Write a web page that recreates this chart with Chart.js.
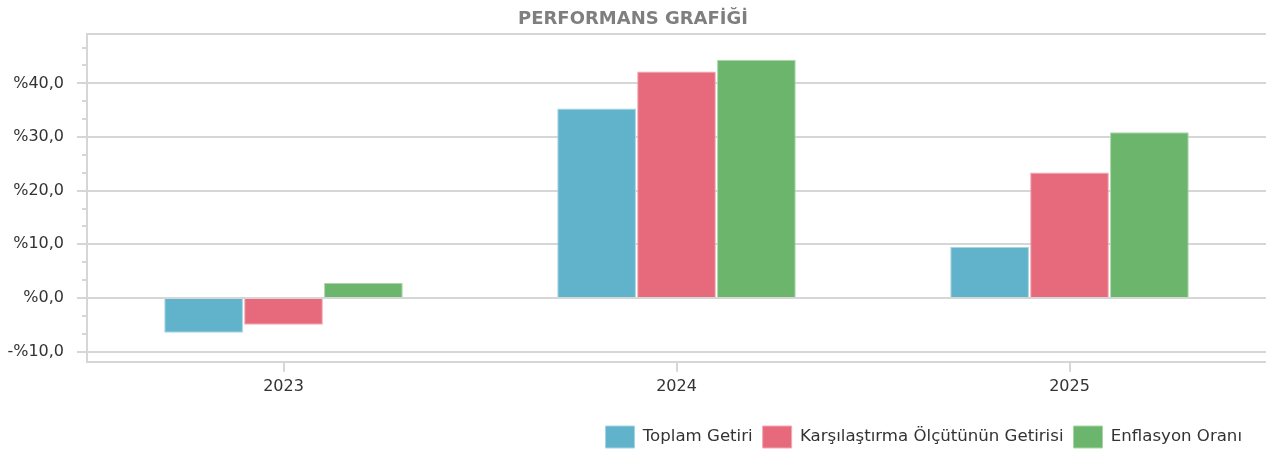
<!DOCTYPE html>
<html>
<head>
<meta charset="utf-8">
<script src="https://cdn.jsdelivr.net/npm/chart.js@4/dist/chart.umd.min.js"></script>
<style>
  html, body { margin: 0; padding: 0; background: #fff; }
  #wrap { width: 1266px; height: 453px; }
</style>
</head>
<body>
<div id="wrap"><canvas id="perf_chart"></canvas></div>
<script>
var years = ["2023", "2024", "2025"];
var toplamGetiri = [-6.5, 35.3, 9.5];
var karsilastirmaGetiri = [-5.0, 42.2, 23.4];
var enflasyonOrani = [2.8, 44.4, 30.9];
var seriesNames = ["Toplam Getiri", "Karşılaştırma Ölçütünün Getirisi", "Enflasyon Oranı"];
var yTickValues = [-10, 0, 10, 20, 30, 40];
var yMin = -11.9;
var yMax = 49.2;

var gridColor = "#d6d6d6";

function pctLabel(v) {
  var s = "%" + Math.abs(v).toFixed(1).replace(".", ",");
  return v < 0 ? "-" + s : s;
}

// minor ticks on the y axis, top border of the plot, legend nudge
var frameLines = {
  id: "frameLines",
  afterLayout: function (chart) {
    chart.legend.left -= 14;
    chart.legend.right -= 14;
  },
  afterDraw: function (chart) {
    var ctx = chart.ctx;
    var area = chart.chartArea;
    var y = chart.scales.y;
    ctx.save();
    ctx.strokeStyle = gridColor;
    ctx.lineWidth = 2;
    ctx.beginPath();
    ctx.moveTo(area.left, area.top);
    ctx.lineTo(area.right, area.top);
    for (var v = -10; v < yMax; v += 10 / 3) {
      if (Math.abs(v / 10 - Math.round(v / 10)) < 0.01) continue;
      var py = Math.round(y.getPixelForValue(v));
      ctx.moveTo(area.left - 5, py);
      ctx.lineTo(area.left, py);
    }
    ctx.stroke();
    ctx.restore();
  },
};

new Chart("perf_chart", {
  type: "bar",
  data: {
    labels: years,
    datasets: [
      {
        label: seriesNames[0],
        data: toplamGetiri,
        backgroundColor: "#61b3cb",
        borderColor: "#a6d4e2",
        borderWidth: 1,
      },
      {
        label: seriesNames[1],
        data: karsilastirmaGetiri,
        backgroundColor: "#e66a7c",
        borderColor: "#f2a9b3",
        borderWidth: 1,
      },
      {
        label: seriesNames[2],
        data: enflasyonOrani,
        backgroundColor: "#6bb56c",
        borderColor: "#a9d6a9",
        borderWidth: 1,
      },
    ],
  },
  plugins: [frameLines],
  options: {
    animation: false,
    responsive: true,
    maintainAspectRatio: false,
    layout: { padding: { left: 0, right: 0, top: 0, bottom: -5 } },
    datasets: {
      bar: { categoryPercentage: 0.61, barPercentage: 0.985 },
    },
    plugins: {
      title: {
        display: true,
        text: "PERFORMANS GRAFİĞİ",
        color: "#7f7f7f",
        font: { family: "DejaVu Sans", size: 18, weight: "bold" },
        padding: { top: 8.5, bottom: 3.9 },
      },
      legend: {
        position: "bottom",
        align: "end",
        labels: {
          boxWidth: 29,
          boxHeight: 22,
          padding: 10,
          color: "#333",
          font: { family: "DejaVu Sans", size: 16.6 },
        },
      },
      tooltip: { enabled: false },
    },
    scales: {
      x: {
        afterFit: function (scale) {
          scale.height += 15;
        },
        grid: {
          offset: false,
          drawOnChartArea: false,
          color: gridColor,
          lineWidth: 2,
          tickLength: 10,
        },
        border: { color: gridColor, width: 2 },
        ticks: {
          color: "#333",
          padding: 5,
          font: { family: "DejaVu Sans", size: 16 },
        },
      },
      y: {
        min: yMin,
        max: yMax,
        afterFit: function (scale) {
          scale.width = 87;
        },
        afterBuildTicks: function (scale) {
          scale.ticks = yTickValues.map(function (v) {
            return { value: v };
          });
        },
        grid: { color: gridColor, lineWidth: 2, tickLength: 10 },
        border: { color: gridColor, width: 2 },
        ticks: {
          color: "#333",
          padding: 13,
          font: { family: "DejaVu Sans", size: 16 },
          callback: function (v) {
            return pctLabel(v);
          },
        },
      },
    },
  },
});
</script>
</body>
</html>
